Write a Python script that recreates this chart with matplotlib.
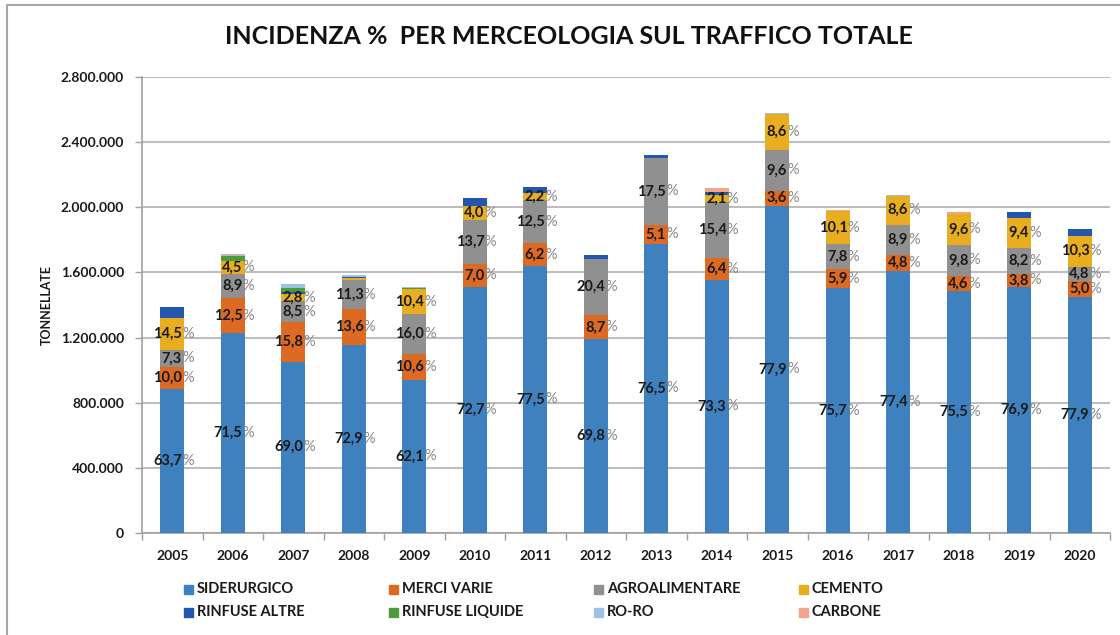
import numpy as np
import matplotlib
matplotlib.use('Agg')
import matplotlib.pyplot as plt
from matplotlib.patches import Rectangle
from matplotlib.lines import Line2D
from matplotlib.ticker import FuncFormatter, FixedLocator

plt.rcParams['font.family'] = ['Lato', 'DejaVu Sans']

years = ['2005', '2006', '2007', '2008', '2009', '2010', '2011', '2012',
         '2013', '2014', '2015', '2016', '2017', '2018', '2019', '2020']

# tonnellate per merceologia (migliaia)
siderurgico = [882, 1226, 1053, 1157, 940, 1510, 1640, 1189, 1775, 1555, 2010, 1503, 1608, 1486, 1513, 1452]
merci_varie = [139, 214, 241, 216, 160, 144, 140, 148, 118, 136, 93, 117, 100, 91, 75, 93]
agroalimentare = [101, 153, 130, 179, 242, 270, 262, 348, 410, 340, 248, 155, 185, 193, 161, 89]
cemento = [201, 77, 43, 12, 157, 82, 47, 0, 0, 45, 222, 201, 179, 189, 185, 192]
rinfuse_altre = [62, 0, 15, 5, 0, 50, 38, 19, 20, 15, 0, 0, 0, 0, 34, 38]
rinfuse_liquide = [0, 30, 25, 0, 6, 0, 0, 0, 0, 0, 0, 0, 0, 0, 0, 0]
ro_ro = [0, 5, 19, 18, 8, 0, 0, 0, 0, 0, 7, 0, 6, 0, 0, 0]
carbone = [0, 10, 0, 0, 0, 0, 0, 0, 0, 30, 0, 10, 0, 9, 0, 0]

# etichette percentuali mostrate
pct_sid = ['63,7', '71,5', '69,0', '72,9', '62,1', '72,7', '77,5', '69,8',
           '76,5', '73,3', '77,9', '75,7', '77,4', '75,5', '76,9', '77,9']
pct_merci = ['10,0', '12,5', '15,8', '13,6', '10,6', '7,0', '6,2', '8,7',
             '5,1', '6,4', '3,6', '5,9', '4,8', '4,6', '3,8', '5,0']
pct_agro = ['7,3', '8,9', '8,5', '11,3', '16,0', '13,7', '12,5', '20,4',
            '17,5', '15,4', '9,6', '7,8', '8,9', '9,8', '8,2', '4,8']
pct_cem = ['14,5', '4,5', '2,8', None, '10,4', '4,0', '2,2', None,
           None, '2,1', '8,6', '10,1', '8,6', '9,6', '9,4', '10,3']

names = ['SIDERURGICO', 'MERCI VARIE', 'AGROALIMENTARE', 'CEMENTO',
         'RINFUSE ALTRE', 'RINFUSE LIQUIDE', 'RO-RO', 'CARBONE']
colors = ['#3f80bf', '#dc6a22', '#909090', '#e8ae20',
          '#2257ad', '#4f9a3a', '#9cc2e6', '#f2a58a']
series = [siderurgico, merci_varie, agroalimentare, cemento,
          rinfuse_altre, rinfuse_liquide, ro_ro, carbone]
labels = [pct_sid, pct_merci, pct_agro, pct_cem]

fig = plt.figure(figsize=(11.2, 6.35), dpi=100)
ax = fig.add_axes([142 / 1120, 102 / 635, 968 / 1120, 456 / 635])

x = np.arange(len(years))
bottom = np.zeros(len(years))
for i, (vals, col) in enumerate(zip(series, colors)):
    v = np.array(vals) * 1000.0
    ax.bar(x, v, 0.39, bottom=bottom, color=col, zorder=3)
    if i < 4:
        for j in range(len(years)):
            lab = labels[i][j]
            if lab is None:
                continue
            ymid = bottom[j] + v[j] / 2
            ax.annotate(lab, (x[j], ymid), xytext=(7, 0), textcoords='offset points',
                        ha='right', va='center', fontsize=10.5, fontweight='bold',
                        color='#1a1a1a', zorder=5)
            ax.annotate('%', (x[j], ymid), xytext=(7, 0), textcoords='offset points',
                        ha='left', va='center', fontsize=10.5, color='#8a8a8a', zorder=5)
    bottom += v

ax.set_xlim(-0.5, len(years) - 0.5)
ax.set_ylim(0, 2800000)
ax.set_yticks(np.arange(0, 2800001, 400000))
ax.yaxis.set_major_formatter(FuncFormatter(lambda v, p: '{:,.0f}'.format(v).replace(',', '.')))
ax.set_xticks(x)
ax.set_xticklabels(years)
ax.xaxis.set_minor_locator(FixedLocator(np.arange(-0.5, len(years), 1.0)))
ax.tick_params(axis='x', which='major', length=0, pad=12, labelsize=10)
ax.tick_params(axis='x', which='minor', length=5, color='#a0a0a0', width=1)
ax.tick_params(axis='y', length=5, color='#a0a0a0', width=1, pad=8, labelsize=10)
for t in ax.get_xticklabels() + ax.get_yticklabels():
    t.set_fontweight('bold')
    t.set_color('#1a1a1a')

ax.grid(axis='y', color='#bdbdbd', linewidth=1.5, zorder=0)
for s in ['top', 'right']:
    ax.spines[s].set_visible(False)
for s in ['left', 'bottom']:
    ax.spines[s].set_color('#a0a0a0')
    ax.spines[s].set_linewidth(1.2)

fig.text(569 / 1120, 1 - 37 / 635, 'INCIDENZA %  PER MERCEOLOGIA SUL TRAFFICO TOTALE',
         ha='center', va='center', fontsize=18, fontweight='bold', color='#111111')
fig.text(47 / 1120, 1 - 305 / 635, 'TONNELLATE', rotation=90, ha='center', va='center',
         fontsize=9, fontweight='bold', color='#1a1a1a')

# legenda a griglia, come in Excel
for i, (n, col) in enumerate(zip(names, colors)):
    r, c = divmod(i, 4)
    px = 184 + c * 205
    py = 589 + r * 23
    fig.patches.append(Rectangle((px / 1120, 1 - (py + 4.5) / 635), 9 / 1120, 9 / 635,
                                 transform=fig.transFigure, color=col))
    fig.text((px + 13) / 1120, 1 - py / 635, n, ha='left', va='center',
             fontsize=10.5, fontweight='bold', color='#1a1a1a')

# cornice del grafico
fig.lines.append(Line2D([7 / 1120, 1], [1 - 5 / 635, 1 - 5 / 635], transform=fig.transFigure,
                        color='#a8a8a8', linewidth=1.5))
fig.lines.append(Line2D([7 / 1120, 7 / 1120], [0, 1 - 5 / 635], transform=fig.transFigure,
                        color='#a8a8a8', linewidth=1.5))

fig.savefig('out.png', dpi=100)
